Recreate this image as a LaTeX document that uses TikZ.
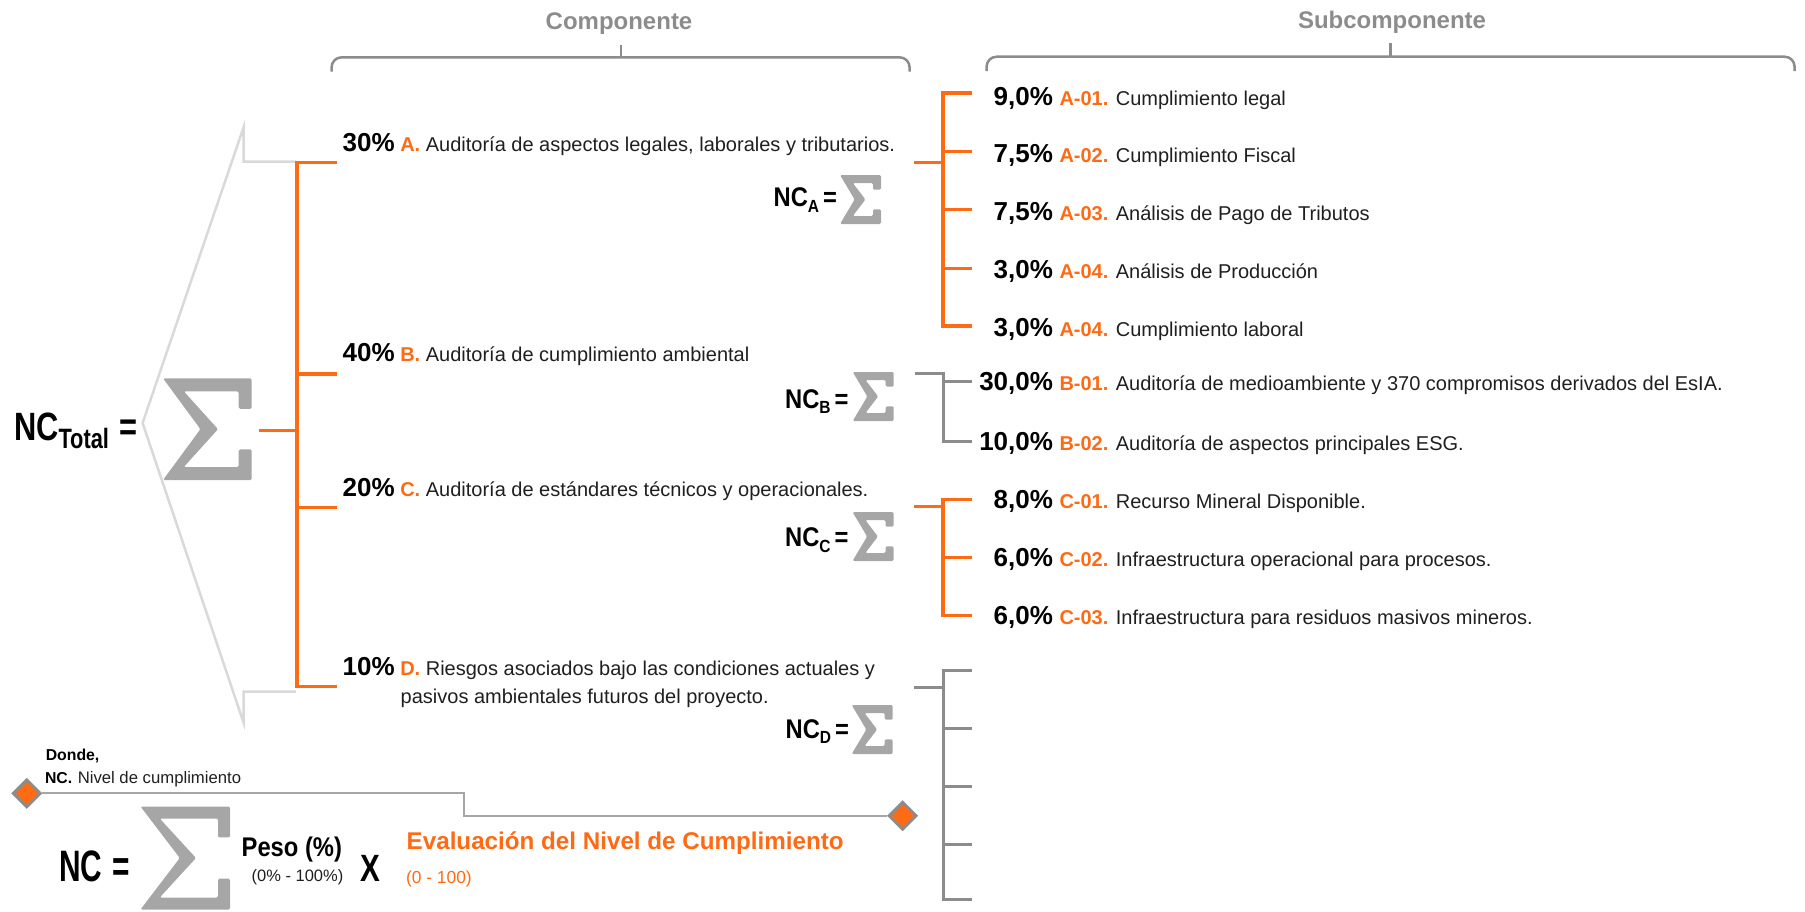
\documentclass[tikz,border=0pt]{standalone}
\usepackage{fontspec}
\setmainfont{Liberation Sans}
\newfontfamily\condfont{Liberation Sans}[FakeStretch=0.78]
\newfontfamily\condP{Liberation Sans}[FakeStretch=0.88]
\usetikzlibrary{shapes.geometric}
\definecolor{orng}{HTML}{FF6A14}
\definecolor{sigg}{HTML}{A6A6A6}
\definecolor{hdrg}{HTML}{8C8C8C}
\definecolor{chevg}{HTML}{D9D9D9}
\definecolor{txtc}{HTML}{1F1F1F}
\newcommand\fs[1]{\fontsize{#1pt}{#1pt}\selectfont}
\newcommand\pct[1]{{\fs{13}\bfseries\color{black}#1}}
\newcommand\code[1]{{\fs{10}\bfseries\color{orng}#1}}
\newcommand\ncl[1]{{\condP\bfseries\fs{13.5}NC\raisebox{-2.8pt}{\fs{8.8}#1}\hspace{2pt}=}}
\newcommand\sigm[5]{%
  \begin{scope}[shift={(#1,#2)}]
  \pgfmathsetmacro\sW{#3}\pgfmathsetmacro\sH{#4}\pgfmathsetmacro\sT{#5}
  \pgfmathsetmacro\sS{0.3*#4}\pgfmathsetmacro\sM{0.62*#3}
  \pgfmathsetmacro\sE{1.35*#5}\pgfmathsetmacro\sC{1.6*#5}
  \pgfmathsetmacro\sWT{#3-#5}\pgfmathsetmacro\sHT{#4-#5}
  \pgfmathsetmacro\sHS{#4-0.3*#4}\pgfmathsetmacro\sHh{0.5*#4}
  \pgfmathsetmacro\sME{0.62*#3-1.35*#5}
  \fill[sigg, rounded corners=0.7pt] (0,0) -- (\sW,0) -- (\sW,\sS) -- (\sWT,\sS) -- (\sWT,\sT) -- (\sC,\sT) -- (\sM,\sHh) -- (\sC,\sHT) -- (\sWT,\sHT) -- (\sWT,\sHS) -- (\sW,\sHS) -- (\sW,\sH) -- (0,\sH) -- (\sME,\sHh) -- cycle;
  \end{scope}}
\tikzset{
  txt/.style={inner sep=0pt, outer sep=0pt, text=txtc, font=\fs{10}},
  otree/.style={draw=orng, line width=1.6pt},
  gtree/.style={draw=hdrg, line width=1.5pt},
  chev/.style={draw=chevg, line width=1.25pt},
  brk/.style={draw=hdrg, line width=1.25pt, rounded corners=5pt},
  bline/.style={draw=sigg, line width=1pt},
  dmd/.style={diamond, aspect=1, fill=orng, draw=hdrg, line width=1.5pt, minimum width=14pt, minimum height=14pt, inner sep=0pt},
  hdr/.style={inner sep=0pt, text=hdrg, font=\fs{12}\bfseries}
}
\begin{document}
\begin{tikzpicture}[x=0.5pt, y=-0.5pt]
\useasboundingbox (0,0) rectangle (1805,911);

% headers
\node[hdr, anchor=base] (hC) at (619,29.3) {Componente};
\node[hdr, anchor=base] (hS) at (1392,28.3) {Subcomponente};
\draw[brk] (331.6,71.7) -- (331.6,57.3) -- (620.9,57.3);
\draw[brk] (909.6,71.7) -- (909.6,57.3) -- (620.9,57.3);
\draw[draw=hdrg, line width=1.25pt] (620.9,58) -- (620.9,45);
\draw[brk] (986.6,71) -- (986.6,56.7) -- (1390.6,56.7);
\draw[brk] (1794.6,71) -- (1794.6,56.7) -- (1390.6,56.7);
\draw[draw=hdrg, line width=1.25pt] (1390.6,57.4) -- (1390.6,42.7);

% left chevron
\draw[chev] (296,161.7) -- (243.5,161.7) -- (243.5,127.5) -- (142.6,423) -- (243.5,722.5) -- (243.5,691.7) -- (296,691.7);

% NC total
\node[txt, anchor=base west, text=black] (nct) at (14,440) {{\condfont\bfseries\fs{19.75}NC\raisebox{-4.15pt}{\fs{14}Total}\hspace{5pt}=}};
\sigm{163}{378.3}{88.7}{101.7}{13}

% component tree
\coordinate (sT) at (259,430.5);
\coordinate (vT) at (297,430.5);
\coordinate (bA) at (336.5,162.7);
\coordinate (bB) at (336.5,374);
\coordinate (bC) at (336.5,507.7);
\coordinate (bD) at (336.5,686.7);
\draw[otree] (sT) -- (vT);
\draw[otree] (bA) -| (vT) |- (bD);
\draw[otree] (bB) -- (bB -| vT);
\draw[otree] (bC) -- (bC -| vT);

% component texts
\node[txt, anchor=base west] (cA) at (342.7,151.7) {\pct{30\%} \code{A.} Auditoría de aspectos legales, laborales y tributarios.};
\node[txt, anchor=base west] (cB) at (342.7,361.7) {\pct{40\%} \code{B.} Auditoría de cumplimiento ambiental};
\node[txt, anchor=base west] (cC) at (342.7,496) {\pct{20\%} \code{C.} Auditoría de estándares técnicos y operacionales.};
\node[txt, anchor=base west] (cD) at (342.7,675) {\pct{10\%} \code{D.} Riesgos asociados bajo las condiciones actuales y};
\node[txt, anchor=base west] (cD2) at (400.7,703.3) {pasivos ambientales futuros del proyecto.};

% NC labels and sigmas
\node[txt, anchor=base east, text=black] (ncA) at (837,206.7) {\ncl{A}};
\sigm{840}{175}{41}{49}{8}
\node[txt, anchor=base east, text=black] (ncB) at (848.5,408) {\ncl{B}};
\sigm{852.7}{372}{41}{49}{8}
\node[txt, anchor=base east, text=black] (ncC) at (848.5,546.5) {\ncl{C}};
\sigm{852.5}{512}{41}{49}{8}
\node[txt, anchor=base east, text=black] (ncD) at (849,738.3) {\ncl{D}};
\sigm{851.7}{705}{41}{49}{8}

% A subtree
\coordinate (sA) at (914,162.7);
\coordinate (vA) at (943,162.7);
\coordinate (a1) at (972,93);
\coordinate (a2) at (972,151.7);
\coordinate (a3) at (972,209.4);
\coordinate (a4) at (972,268.3);
\coordinate (a5) at (972,326);
\draw[otree] (sA) -- (vA);
\draw[otree] (a1) -| (vA) |- (a5);
\draw[otree] (a2) -- (a2 -| vA);
\draw[otree] (a3) -- (a3 -| vA);
\draw[otree] (a4) -- (a4 -| vA);

% B subtree
\coordinate (sB) at (915,373.5);
\coordinate (vB) at (943,373.5);
\coordinate (b1) at (972,381.7);
\coordinate (b2) at (972,441.5);
\draw[gtree] (sB) -- (vB) |- (b2);
\draw[gtree] (b1) -- (b1 -| vB);

% C subtree
\coordinate (sC) at (914,506.7);
\coordinate (vC) at (943,506.7);
\coordinate (c1) at (972,499.3);
\coordinate (c2) at (972,557.3);
\coordinate (c3) at (972,615.7);
\draw[otree] (sC) -- (vC);
\draw[otree] (c1) -| (vC) |- (c3);
\draw[otree] (c2) -- (c2 -| vC);

% D subtree
\coordinate (sD) at (914,687.3);
\coordinate (vD) at (943,687.3);
\coordinate (d1) at (972,670.7);
\coordinate (d2) at (972,728.7);
\coordinate (d3) at (972,786.7);
\coordinate (d4) at (972,844.3);
\coordinate (d5) at (972,899);
\draw[gtree] (sD) -- (vD);
\draw[gtree] (d1) -| (vD) |- (d5);
\draw[gtree] (d2) -- (d2 -| vD);
\draw[gtree] (d3) -- (d3 -| vD);
\draw[gtree] (d4) -- (d4 -| vD);

% subcomponent texts
\node[txt, anchor=base east] (pA1) at (1053,105) {\pct{9,0\%}};
\node[txt, anchor=base west] (tA1) at (1059.5,105) {\code{A-01.} Cumplimiento legal};
\node[txt, anchor=base east] (pA2) at (1053,162.7) {\pct{7,5\%}};
\node[txt, anchor=base west] (tA2) at (1059.5,162.7) {\code{A-02.} Cumplimiento Fiscal};
\node[txt, anchor=base east] (pA3) at (1053,220.4) {\pct{7,5\%}};
\node[txt, anchor=base west] (tA3) at (1059.5,220.4) {\code{A-03.} Análisis de Pago de Tributos};
\node[txt, anchor=base east] (pA4) at (1053,278.3) {\pct{3,0\%}};
\node[txt, anchor=base west] (tA4) at (1059.5,278.3) {\code{A-04.} Análisis de Producción};
\node[txt, anchor=base east] (pA5) at (1053,336) {\pct{3,0\%}};
\node[txt, anchor=base west] (tA5) at (1059.5,336) {\code{A-04.} Cumplimiento laboral};
\node[txt, anchor=base east] (pB1) at (1053,390) {\pct{30,0\%}};
\node[txt, anchor=base west] (tB1) at (1059.5,390) {\code{B-01.} Auditoría de medioambiente y 370 compromisos derivados del EsIA.};
\node[txt, anchor=base east] (pB2) at (1053,450) {\pct{10,0\%}};
\node[txt, anchor=base west] (tB2) at (1059.5,450) {\code{B-02.} Auditoría de aspectos principales ESG.};
\node[txt, anchor=base east] (pC1) at (1053,508.3) {\pct{8,0\%}};
\node[txt, anchor=base west] (tC1) at (1059.5,508.3) {\code{C-01.} Recurso Mineral Disponible.};
\node[txt, anchor=base east] (pC2) at (1053,566.7) {\pct{6,0\%}};
\node[txt, anchor=base west] (tC2) at (1059.5,566.7) {\code{C-02.} Infraestructura operacional para procesos.};
\node[txt, anchor=base east] (pC3) at (1053,624) {\pct{6,0\%}};
\node[txt, anchor=base west] (tC3) at (1059.5,624) {\code{C-03.} Infraestructura para residuos masivos mineros.};

% legend
\node[txt, anchor=base west, text=black] (donde) at (45.8,760.7) {\fs{7.9}\bfseries Donde,};
\node[txt, anchor=base west] (ncdef) at (45,783.3) {{\fs{7.9}\bfseries\color{black}NC.} {\fs{8.35}Nivel de cumplimiento}};
\node[dmd] (dL) at (26.7,793.3) {};
\node[dmd] (dR) at (902.7,815.7) {};
\coordinate (mL) at (464.3,793.3);
\draw[bline] (dL.east) -- (mL) |- (dR.west);

% formula
\node[txt, anchor=base west, text=black] (ncf) at (59.3,881.7) {\condfont\bfseries\fs{22}\scalebox{0.87}[1]{NC}\hspace{5pt}\scalebox{0.87}[1]{=}};
\sigm{140.5}{806.5}{89.5}{103}{12}
\node[txt, anchor=base east, text=black] (peso) at (342,856.7) {\condP\bfseries\fs{13.5}Peso (\%)};
\node[txt, anchor=base east] (pr) at (343.3,881.7) {\fs{8.25}(0\% - 100\%)};
\node[txt, anchor=base west, text=black] (xx) at (360.5,881.7) {\condfont\bfseries\fs{19}X};
\node[txt, anchor=base west, text=orng] (ev) at (406.7,849.3) {\fs{12.1}\bfseries Evaluación del Nivel de Cumplimiento};
\node[txt, anchor=base west, text=orng] (er) at (406,883.3) {\fs{8.7}(0 - 100)};
\end{tikzpicture}
\end{document}
